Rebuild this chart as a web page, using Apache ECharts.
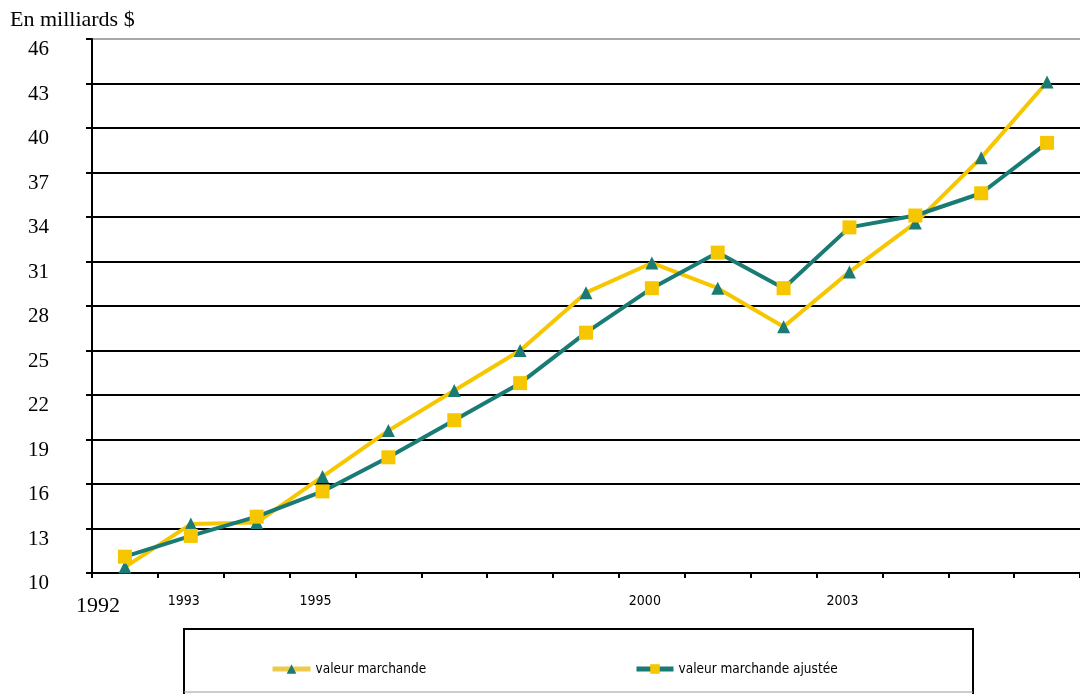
<!DOCTYPE html>
<html>
<head>
<meta charset="utf-8">
<script src="https://cdn.jsdelivr.net/npm/echarts@6/dist/echarts.min.js"></script>
<style>
html,body{margin:0;padding:0;background:#fff;}
#chart{width:1080px;height:694px;}
</style>
</head>
<body>
<div id="chart"></div>
<script>
var years = ['1992','1993','1994','1995','1996','1997','1998','1999','2000','2001','2002','2003','2004','2005','2006'];
var shownYears = ['1993','1995','2000','2003'];
var firstYearLabel = '1992';
var valeurMarchande = [10.4, 13.3, 13.4, 16.5, 19.6, 22.3, 25.0, 28.9, 30.9, 29.2, 26.6, 30.3, 33.6, 38.0, 43.1];
var valeurAjustee = [11.1, 12.5, 13.8, 15.5, 17.8, 20.3, 22.8, 26.2, 29.2, 31.6, 29.2, 33.3, 34.1, 35.6, 39.0];
var seriesNames = ['valeur marchande', 'valeur marchande ajustée'];
var yMin = 10, yMax = 46, yStep = 3;
var unitLabel = 'En milliards $';

var YELLOW = '#F6C700';
var TEAL = '#197B73';
var SERIF = '"Liberation Serif", "DejaVu Serif", serif';
var NARROW = '"DejaVu Sans Condensed", "Liberation Sans", sans-serif';

var splitColors = [];
for (var v = yMin; v <= yMax; v += yStep) splitColors.push(v === yMax ? '#a8a8a8' : '#000');

var chart = echarts.init(document.getElementById('chart'), null, {renderer: 'canvas'});
chart.setOption({
  animation: false,
  backgroundColor: '#fff',
  title: {
    text: unitLabel, left: 10, top: 9, padding: 0,
    textStyle: {fontFamily: SERIF, fontSize: 22, fontWeight: 'normal', color: '#000'}
  },
  grid: {left: 92, top: 39, width: 997, height: 534, containLabel: false},
  xAxis: {
    type: 'category',
    data: years,
    boundaryGap: true,
    axisLine: {lineStyle: {color: '#000', width: 2}},
    axisTick: {show: true, length: 5, lineStyle: {color: '#000', width: 2}, interval: 0},
    axisLabel: {
      interval: 0,
      margin: 21,
      formatter: function (val) {
        if (val === firstYearLabel) return '{b|' + val + '}';
        if (shownYears.indexOf(val) >= 0) return '{a|' + val + '}';
        return '';
      },
      rich: {
        a: {fontFamily: NARROW, fontSize: 14, color: '#000', padding: [0, 14, 0, 0]},
        b: {fontFamily: SERIF, fontSize: 22, color: '#000', padding: [1, 54, 0, 0]}
      }
    },
    splitLine: {show: false}
  },
  yAxis: {
    type: 'value',
    min: yMin, max: yMax, interval: yStep,
    axisLine: {show: true, lineStyle: {color: '#000', width: 2}},
    axisTick: {show: true, length: 6, lineStyle: {color: '#000', width: 2}},
    axisLabel: {
      margin: 43,
      fontFamily: SERIF, fontSize: 21, color: '#000',
      verticalAlign: 'top'
    },
    splitLine: {show: true, lineStyle: {color: splitColors, width: 2}}
  },
  legend: [
    {
      data: [seriesNames[0]], left: 270, top: 662, padding: 0, itemWidth: 38, itemHeight: 12,
      lineStyle: {width: 5, color: '#EDCB4A'},
      textStyle: {fontFamily: NARROW, fontSize: 13.5, color: '#000'}
    },
    {
      data: [seriesNames[1]], left: 634, top: 662, padding: 0, itemWidth: 37, itemHeight: 12,
      lineStyle: {width: 5, color: TEAL},
      textStyle: {fontFamily: NARROW, fontSize: 13.5, color: '#000'}
    }
  ],
  graphic: [
    {type: 'rect', shape: {x: 184, y: 629, width: 789, height: 70}, style: {fill: 'none', stroke: '#000', lineWidth: 2}},
    {type: 'line', shape: {x1: 184, y1: 692, x2: 973, y2: 692}, style: {stroke: '#999', lineWidth: 1}}
  ],
  series: [
    {
      name: seriesNames[0], type: 'line', data: valeurMarchande,
      symbol: 'triangle', symbolSize: 13, showSymbol: true,
      lineStyle: {color: YELLOW, width: 4},
      itemStyle: {color: TEAL},
      emphasis: {disabled: true}
    },
    {
      name: seriesNames[1], type: 'line', data: valeurAjustee,
      symbol: 'rect', symbolSize: 14, showSymbol: true,
      lineStyle: {color: TEAL, width: 4},
      itemStyle: {color: YELLOW},
      emphasis: {disabled: true}
    }
  ]
});
</script>
</body>
</html>
